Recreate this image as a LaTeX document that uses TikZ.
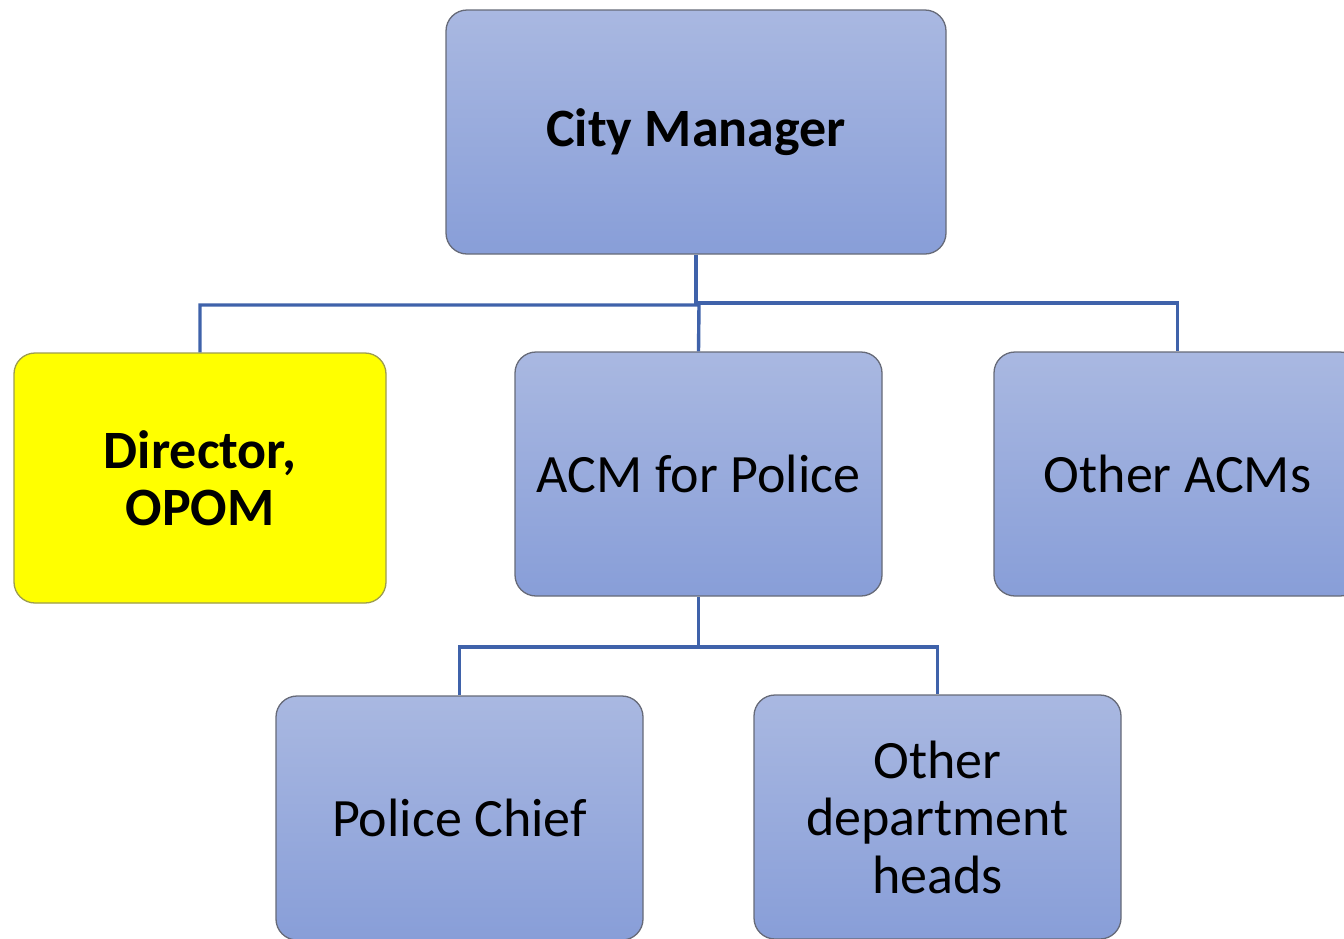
\documentclass[tikz,border=0pt]{standalone}
\usepackage{fontspec}
\setmainfont{Carlito}
\definecolor{boxtop}{HTML}{A9B8E1}
\definecolor{boxbot}{HTML}{889ED8}
\definecolor{boxline}{HTML}{666A78}
\definecolor{yelline}{HTML}{9C9C50}
\definecolor{conncol}{HTML}{3F62AA}
\newcommand\boxfont{\fontsize{54}{57.5}\selectfont}
\tikzset{
  orgbox/.style={draw=boxline, line width=1.3pt, rounded corners=21pt,
    top color=boxtop, bottom color=boxbot, minimum width=367pt, minimum height=244pt,
    inner sep=0pt, align=center, text width=360pt,
    font=\boxfont, execute at begin node={\spaceskip=12.5pt\relax\xspaceskip=12.5pt\relax}},
  yelbox/.style={orgbox, fill=yellow, top color=yellow, bottom color=yellow, draw=yelline,
    font=\boxfont\bfseries},
  conn/.style={draw=conncol, line width=3.4pt}
}
\begin{document}
\begin{tikzpicture}[x=1pt,y=-1pt]
\useasboundingbox (0,0) rectangle (1344,938);
\clip (0,0) rectangle (1344,938);
\node[orgbox, minimum width=500pt, text width=490pt, font=\boxfont\bfseries] (cm) at (696,132) {City Manager};
\node[yelbox, minimum width=372pt, minimum height=250pt] (dir) at (200,478) {Director,\\OPOM};
\node[orgbox] (acm) at (698.5,474) {ACM for Police};
\node[orgbox] (oacm) at (1177.5,474) {Other ACMs};
\node[orgbox] (pc) at (459.5,818) {Police Chief};
\node[orgbox] (odh) at (937.5,817) {Other\\department\\heads};
\coordinate (j1) at (696,303);
\coordinate (j2) at (699,305);
\coordinate (j3) at (698.5,647);
\draw[conn] (cm.south) -- (j1) -| (oacm.north);
\draw[conn] (dir.north) |- (j2) -- (acm.north);
\draw[conn] (acm.south) -- (j3);
\draw[conn] (pc.north) |- (j3) -| (odh.north);
\end{tikzpicture}
\end{document}
